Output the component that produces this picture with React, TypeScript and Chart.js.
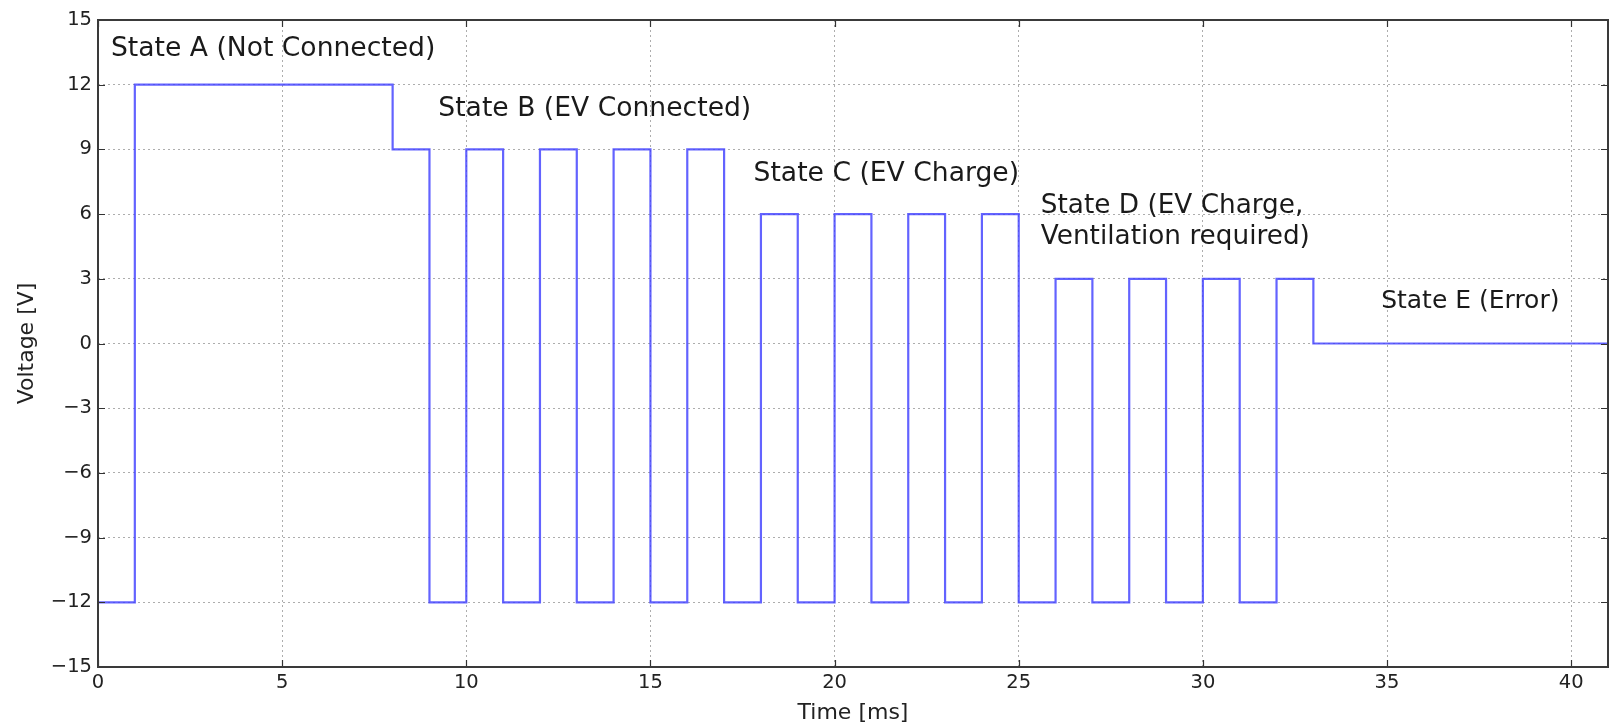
import React, { useEffect, useRef } from 'react';
import { Chart, registerables } from 'chart.js';

Chart.register(...registerables);

// ---- data ----
const timeMs = [0, 1, 8, 9, 10, 11, 12, 13, 14, 15, 16, 17, 18, 19, 20, 21, 22, 23, 24, 25, 26, 27, 28, 29, 30, 31, 32, 33, 41];
const voltageV = [-12, 12, 9, -12, 9, -12, 9, -12, 9, -12, 9, -12, 6, -12, 6, -12, 6, -12, 6, -12, 3, -12, 3, -12, 3, -12, 3, 0, 0];
const xTicks = [0, 5, 10, 15, 20, 25, 30, 35, 40];
const yTicks = [-15, -12, -9, -6, -3, 0, 3, 6, 9, 12, 15];
const stateLabels = [
  ['State A (Not Connected)'],
  ['State B (EV Connected)'],
  ['State C (EV Charge)'],
  ['State D (EV Charge,', 'Ventilation required)'],
  ['State E (Error)'],
];
const stateX = [0.35, 9.24, 17.8, 25.6, 34.84];
const stateY = [13.67, 10.85, 7.84, 6.35, 1.95];

const fmt = (v: number) => (v < 0 ? '\u2212' + Math.abs(v) : String(v));
const FONT = '"DejaVu Sans", "Liberation Sans", sans-serif';
const LABEL_FONT_SIZES = [26.6, 26.6, 26.6, 26.3, 25];

const framePlugin = {
  id: 'frame',
  afterDatasetsDraw(chart: any) {
    const { ctx, chartArea: a, scales } = chart;
    ctx.save();
    ctx.strokeStyle = '#333';
    ctx.lineWidth = 1.2;
    ctx.beginPath();
    for (const v of xTicks) {
      const px = Math.round(scales.x.getPixelForValue(v)) + 0.5;
      ctx.moveTo(px, a.bottom);
      ctx.lineTo(px, a.bottom - 7);
      ctx.moveTo(px, a.top);
      ctx.lineTo(px, a.top + 7);
    }
    for (const v of yTicks) {
      const py = Math.round(scales.y.getPixelForValue(v)) + 0.5;
      ctx.moveTo(a.left, py);
      ctx.lineTo(a.left + 7, py);
      ctx.moveTo(a.right, py);
      ctx.lineTo(a.right - 7, py);
    }
    ctx.stroke();
    ctx.lineWidth = 2;
    ctx.strokeStyle = '#3a3a3a';
    ctx.strokeRect(a.left, a.top, a.right - a.left, a.bottom - a.top);
    ctx.restore();
  },
  afterDraw(chart: any) {
    const { ctx, scales } = chart;
    ctx.save();
    ctx.fillStyle = '#1a1a1a';
    ctx.textAlign = 'left';
    ctx.textBaseline = 'middle';
    stateLabels.forEach((lines, k) => {
      ctx.font = LABEL_FONT_SIZES[k] + 'px ' + FONT;
      const px = scales.x.getPixelForValue(stateX[k]);
      const py = scales.y.getPixelForValue(stateY[k]);
      lines.forEach((t, i) => ctx.fillText(t, px, py + i * 31));
    });
    ctx.restore();
  },
};

export default function App() {
  const ref = useRef<HTMLCanvasElement | null>(null);
  useEffect(() => {
    if (!ref.current) return;
    const chart = new Chart(ref.current, {
      type: 'line',
      data: {
        datasets: [
          {
            label: 'Voltage',
            data: timeMs.map((t, i) => ({ x: t, y: voltageV[i] })),
            borderColor: 'rgba(60,60,255,0.8)',
            borderWidth: 2.2,
            pointRadius: 0,
            stepped: 'before',
            fill: false,
          },
        ],
      },
      options: {
        animation: false,
        responsive: false,
        devicePixelRatio: 1,
        layout: { padding: { left: 0, top: 20, right: 4, bottom: 0 } },
        plugins: { legend: { display: false }, tooltip: { enabled: false } },
        scales: {
          x: {
            type: 'linear',
            min: 0,
            max: 41,
            afterBuildTicks: (s: any) => {
              s.ticks = xTicks.map((v) => ({ value: v }));
            },
            afterFit: (s: any) => {
              s.height = 57;
            },
            ticks: {
              autoSkip: false,
              maxRotation: 0,
              padding: 4,
              color: '#222',
              font: { family: FONT, size: 19.5 },
              callback: (v: any) => fmt(Number(v)),
            },
            grid: { color: 'rgba(0,0,0,0.32)', lineWidth: 1, drawTicks: false },
            border: { display: false, dash: [2, 3] },
            title: {
              display: true,
              text: 'Time [ms]',
              color: '#222',
              font: { family: FONT, size: 22, lineHeight: 1 },
              padding: { top: 0, bottom: 0 },
            },
          },
          y: {
            type: 'linear',
            min: -15,
            max: 15,
            afterBuildTicks: (s: any) => {
              s.ticks = yTicks.map((v) => ({ value: v }));
            },
            afterFit: (s: any) => {
              s.width = 98;
            },
            ticks: {
              autoSkip: false,
              padding: 6,
              color: '#222',
              font: { family: FONT, size: 19.5 },
              callback: (v: any) => fmt(Number(v)),
            },
            grid: { color: 'rgba(0,0,0,0.32)', lineWidth: 1, drawTicks: false },
            border: { display: false, dash: [2, 3] },
            title: {
              display: true,
              text: 'Voltage [V]',
              color: '#222',
              font: { family: FONT, size: 22, lineHeight: 1.2 },
              padding: { top: 14, bottom: 0 },
            },
          },
        },
      },
      plugins: [framePlugin],
    });
    return () => chart.destroy();
  }, []);
  return (
    <div style={{ position: 'fixed', left: 0, top: 0, width: 1612, height: 724, background: '#fff' }}>
      <canvas ref={ref} width={1612} height={724} style={{ display: 'block' }} />
    </div>
  );
}
